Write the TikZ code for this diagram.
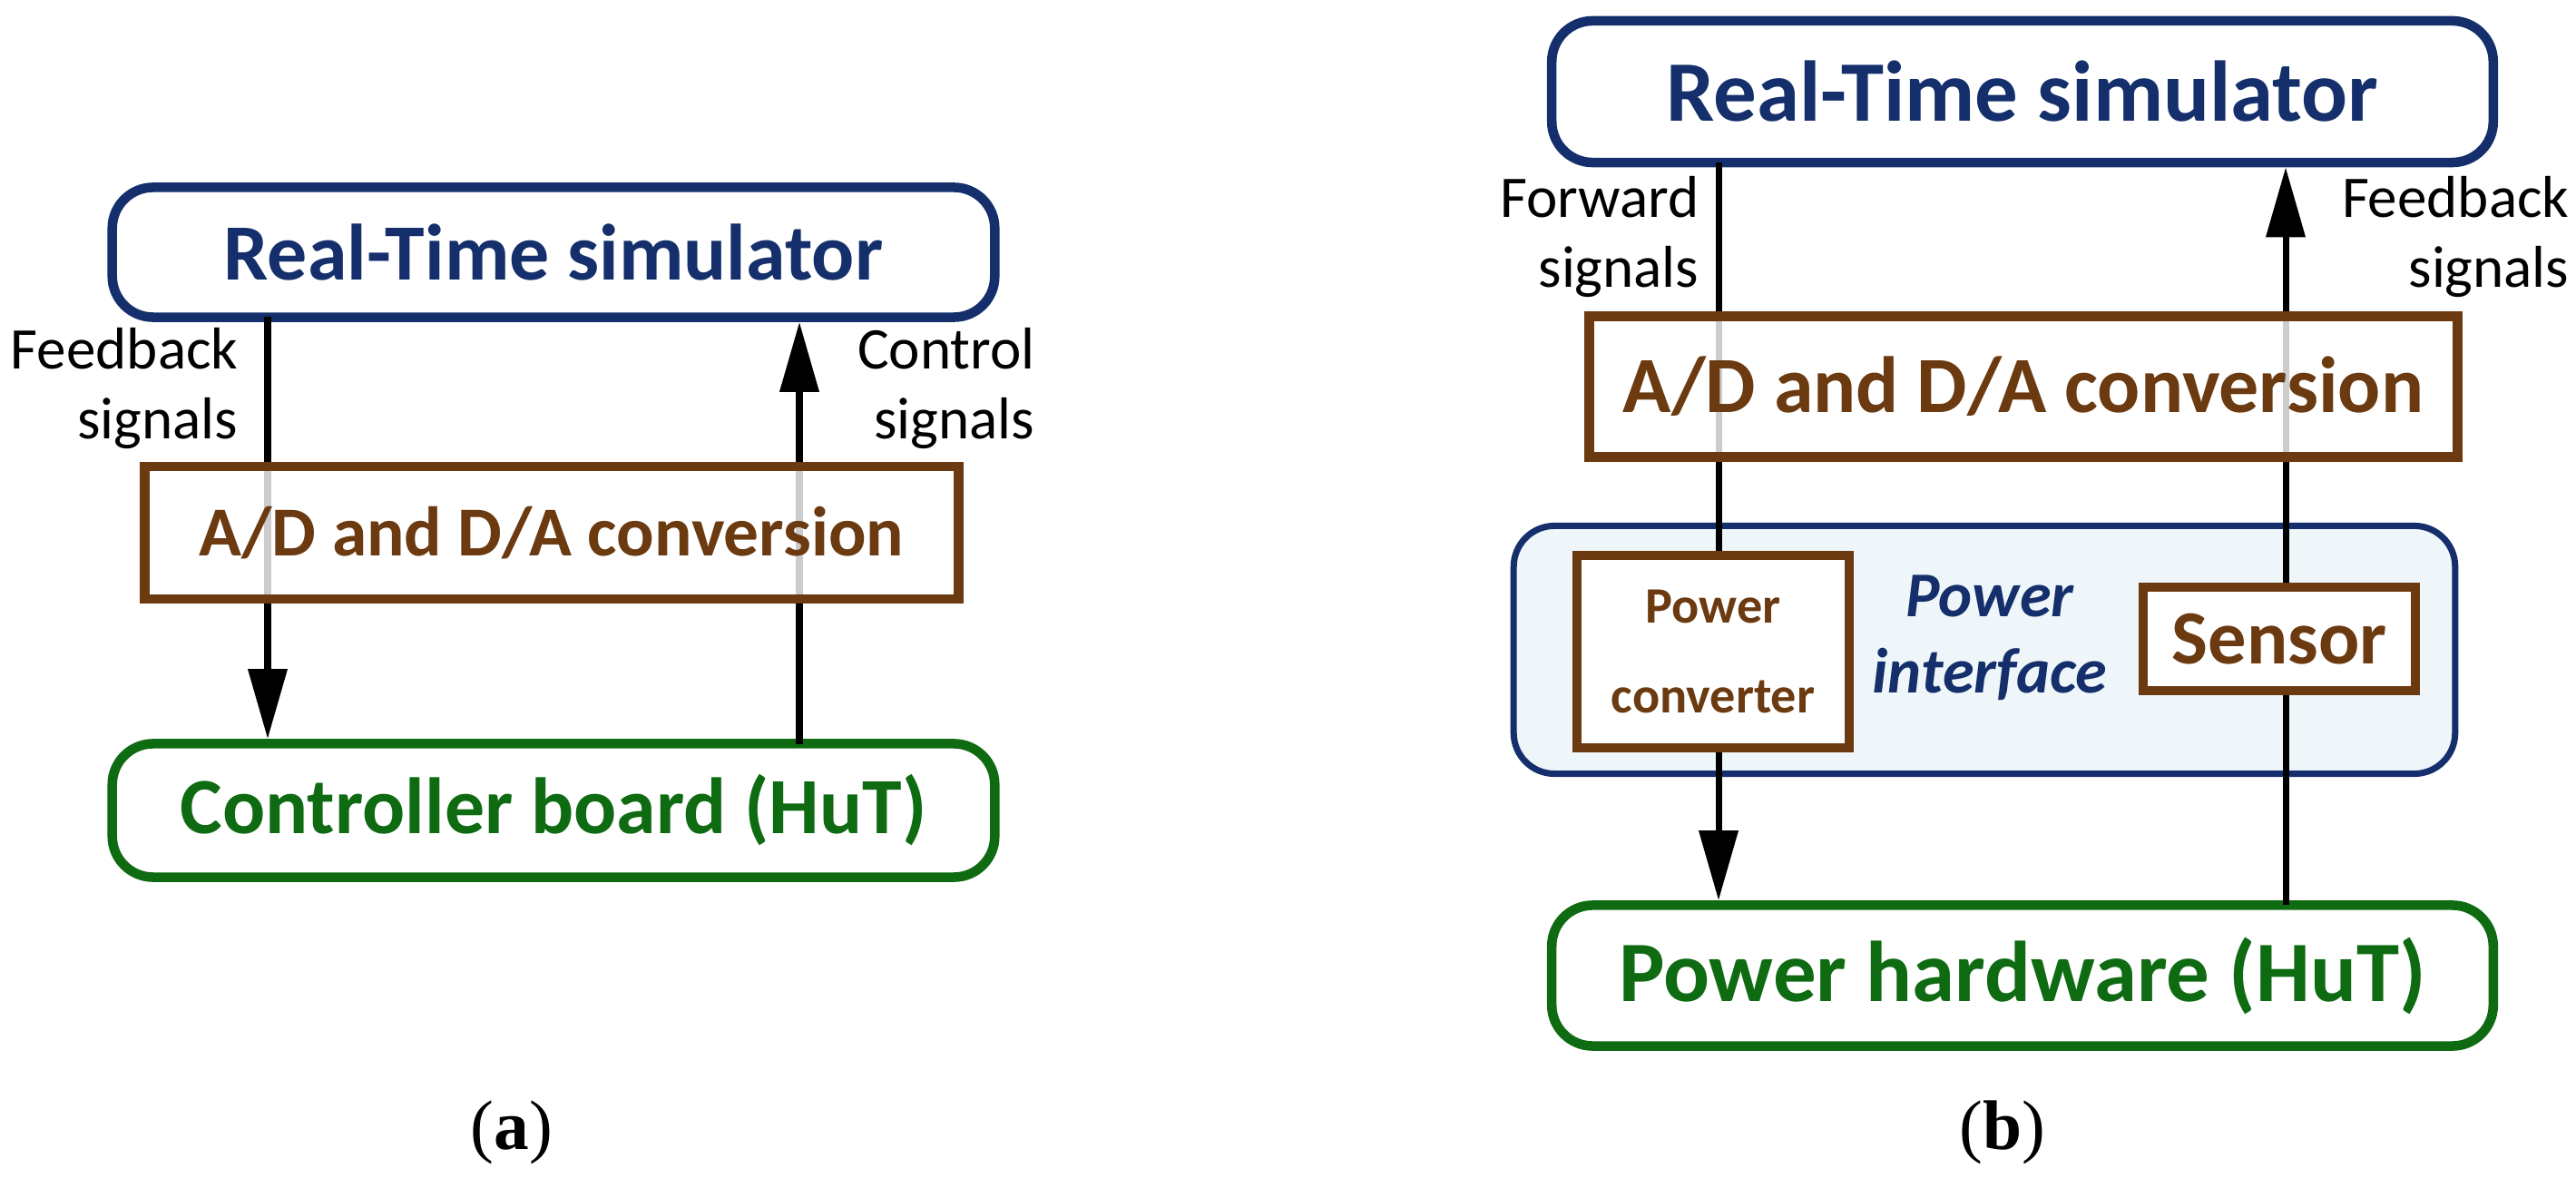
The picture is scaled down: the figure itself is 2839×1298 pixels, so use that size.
\documentclass[tikz,border=0pt]{standalone}
\usepackage{fontspec}
\setmainfont{Carlito}
\newfontfamily\capfont{Liberation Serif}
\usetikzlibrary{positioning,arrows.meta}
\definecolor{simblue}{HTML}{142F6B}
\definecolor{convbrown}{HTML}{6B3A10}
\definecolor{hutgreen}{HTML}{0F6B12}
\definecolor{ifacefill}{HTML}{EEF6F9}
\begin{document}
\begin{tikzpicture}[
        x=0.01cm, y=-0.01cm,
        font=\bfseries
    ]
    \tikzset{
        simnode/.style = {rectangle, rounded corners=0.45cm, draw=simblue, line width=3pt, text=simblue, font=\fontsize{25}{28}\selectfont\bfseries},
        hutnode/.style = {simnode, draw=hutgreen, text=hutgreen},
        convnode/.style = {rectangle, draw=convbrown, line width=3pt, text=convbrown, fill=white, fill opacity=0.8, text opacity=1, font=\fontsize{22}{26}\selectfont\bfseries},
        signal/.style = {line width=2pt, -{Triangle[length=0.77cm,width=0.42cm]}},
        sigtext/.style = {align=right, font=\fontsize{18.5}{22}\selectfont, inner sep=2pt},
        caption/.style = {font=\fontsize{22}{26}\selectfont\capfont}
    }
    \useasboundingbox (0,0) rectangle (2839,1298);
    % (a)
    \node[simnode, minimum width=9.72cm, minimum height=1.43cm] (rtA) at (610,278) {Real-Time simulator};
    \node[hutnode, minimum width=9.72cm, minimum height=1.47cm] (hutA) at (610,893) {Controller board (HuT)};
    \coordinate (fbA) at (295,349);
    \coordinate (ctA) at (881,820);
    \draw[signal] (fbA) -- (fbA |- hutA.north);
    \draw[signal] (ctA) -- (ctA |- rtA.south);
    \node[convnode, minimum width=8.96cm, minimum height=1.46cm] (adA) at (608,587) {A/D and D/A conversion};
    \node[sigtext, anchor=east] (fbtextA) at (270,428) {Feedback\\signals};
    \node[sigtext, anchor=east] (cttextA) at (1148,428) {Control\\signals};
    \node[caption] (capA) at (564,1248) {(\textbf{a})};
    % (b)
    \node[simnode, minimum width=10.37cm, minimum height=1.56cm, font=\fontsize{27}{30}\selectfont\bfseries] (rtB) at (2229,101) {Real-Time simulator};
    \node[hutnode, minimum width=10.37cm, minimum height=1.55cm, font=\fontsize{27}{30}\selectfont\bfseries] (hutB) at (2229,1075) {Power hardware (HuT)};
    \node[rectangle, rounded corners=0.45cm, draw=simblue, line width=2pt, fill=ifacefill, minimum width=10.37cm, minimum height=2.73cm] (ifaceB) at (2187,716) {};
    \coordinate (fwB) at (1894,179);
    \coordinate (fbB) at (2519,997);
    \draw[signal] (fwB) -- (fwB |- hutB.north);
    \draw[signal] (fbB) -- (fbB |- rtB.south);
    \node[convnode, minimum width=9.56cm, minimum height=1.55cm, font=\fontsize{25}{28}\selectfont\bfseries] (adB) at (2230,426) {A/D and D/A conversion};
    \node[convnode, fill opacity=1, minimum width=3.0cm, minimum height=2.12cm, align=center, font=\fontsize{16}{28}\selectfont\bfseries] (pconvB) at (1888,718) {Power\\converter};
    \node[convnode, fill opacity=1, minimum width=3.0cm, minimum height=1.14cm, font=\fontsize{24}{28}\selectfont\bfseries] (sensB) at (2512,704) {Sensor};
    \node[align=center, text=simblue, font=\fontsize{20}{24}\selectfont\bfseries\itshape] (ifacetextB) at (2193,703) {Power\\interface};
    \node[sigtext, anchor=east] (fwtextB) at (1880,261) {Forward\\signals};
    \node[sigtext, anchor=east] (fbtextB) at (2839,261) {Feedback\\signals};
    \node[caption] (capB) at (2207,1248) {(\textbf{b})};
\end{tikzpicture}
\end{document}
